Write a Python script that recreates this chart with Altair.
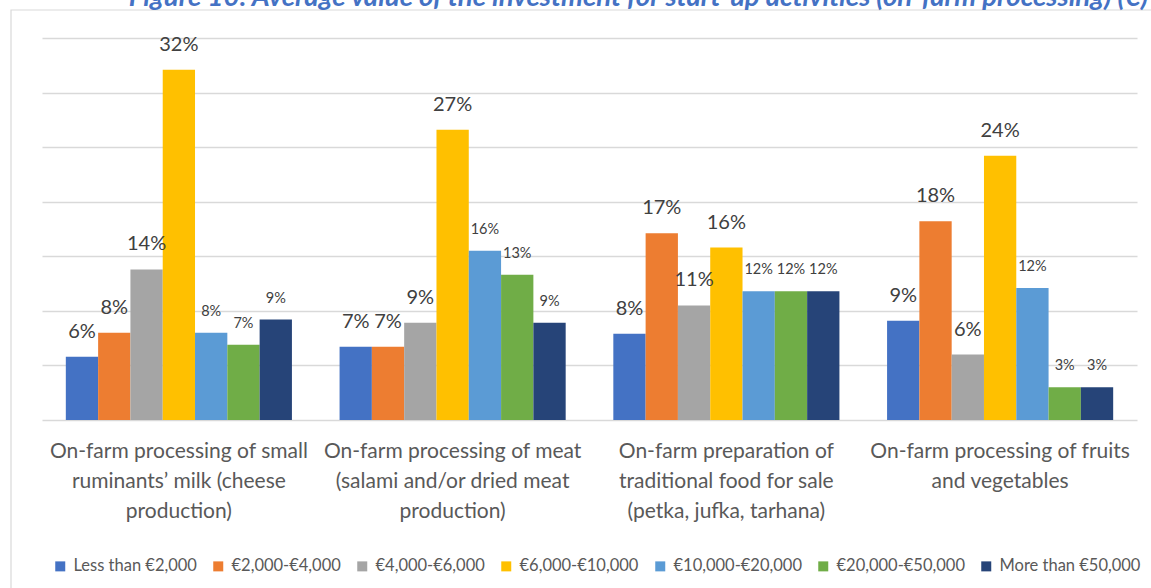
import altair as alt
import pandas as pd

title_text = "Figure 10: Average value of the investment for start-up activities (on-farm processing) (€)"

categories = [
    ["On-farm processing of small", "ruminants’ milk (cheese", "production)"],
    ["On-farm processing of meat", "(salami and/or dried meat", "production)"],
    ["On-farm preparation of", "traditional food for sale", "(petka, jufka, tarhana)"],
    ["On-farm processing of fruits", "and vegetables"],
]

series = ["Less than €2,000", "€2,000-€4,000", "€4,000-€6,000", "€6,000-€10,000",
          "€10,000-€20,000", "€20,000-€50,000", "More than €50,000"]
colors = ["#4472C4", "#ED7D31", "#A5A5A5", "#FFC000", "#5B9BD5", "#70AD47", "#264478"]

less_2000 = [5.8, 6.7, 7.9, 9.1]
e2000_4000 = [8.0, 6.7, 17.1, 18.2]
e4000_6000 = [13.8, 8.9, 10.5, 6.0]
e6000_10000 = [32.1, 26.6, 15.8, 24.2]
e10000_20000 = [8.0, 15.5, 11.8, 12.1]
e20000_50000 = [6.9, 13.3, 11.8, 3.0]
more_50000 = [9.2, 8.9, 11.8, 3.0]

series_values = [less_2000, e2000_4000, e4000_6000, e6000_10000,
                 e10000_20000, e20000_50000, more_50000]

cat_ids = ["\n".join(c) for c in categories]

rows = []
for si, (s, vals) in enumerate(zip(series, series_values)):
    for ci, v in enumerate(vals):
        rows.append({"category": cat_ids[ci], "series": s, "sidx": si, "value": v})
df = pd.DataFrame(rows)

# layout (pixels)
W, H = 1095, 382
PAD = {"left": 42, "top": 38, "right": 14, "bottom": 168}

FONT = "Lato"

x_enc = alt.X("category:N", sort=cat_ids,
              scale=alt.Scale(paddingInner=0, paddingOuter=0),
              axis=alt.Axis(labels=False, ticks=False, domain=False, title=None, grid=False))
y_enc = alt.Y("value:Q", scale=alt.Scale(domain=[0, 35], nice=False),
              axis=alt.Axis(values=[0, 5, 10, 15, 20, 25, 30, 35], labels=False, ticks=False,
                            domain=False, title=None, grid=True, gridColor="#D9D9D9",
                            gridWidth=1.3))
xo_enc = alt.XOffset("series:N", sort=series,
                     scale=alt.Scale(paddingOuter=0.7375, paddingInner=0))
color_enc = alt.Color("series:N", sort=series,
                      scale=alt.Scale(domain=series, range=colors),
                      legend=alt.Legend(orient="none", direction="horizontal", columns=7,
                                        legendX=10, legendY=520, title=None,
                                        symbolType="square", symbolSize=100,
                                        symbolStrokeWidth=0, labelFont=FONT,
                                        labelFontSize=16.5, labelColor="#595959",
                                        labelOffset=5, columnPadding=13,
                                        labelLimit=300))

base = alt.Chart(df)

bars = base.mark_bar(strokeWidth=0).encode(
    x=x_enc, y=y_enc, xOffset=xo_enc, color=color_enc
)

label_big = base.transform_filter("datum.sidx < 4").transform_calculate(
    label="format(datum.value, '.0f') + '%'"
).mark_text(font=FONT, fontSize=20, color="#404040", baseline="middle", dy=-25).encode(
    x=alt.X("category:N", sort=cat_ids), y="value:Q",
    xOffset=alt.XOffset("series:N", sort=series), text="label:N"
)

label_small = base.transform_filter("datum.sidx >= 4").transform_calculate(
    label="format(datum.value, '.0f') + '%'"
).mark_text(font=FONT, fontSize=14.5, color="#404040", baseline="middle", dy=-21).encode(
    x=alt.X("category:N", sort=cat_ids), y="value:Q",
    xOffset=alt.XOffset("series:N", sort=series), text="label:N"
)

cat_df = pd.DataFrame({"category": cat_ids})
cat_labels = alt.Chart(cat_df).mark_text(
    font=FONT, fontSize=21, color="#595959", baseline="middle", align="center",
    lineBreak="\n", lineHeight=30
).encode(
    x=alt.X("category:N", sort=cat_ids),
    y=alt.value(H + 32),
    text="category:N",
)

frame = alt.Chart(pd.DataFrame({"f": [0]})).mark_rect(
    fillOpacity=0, stroke="#D9D9D9", strokeWidth=1.2
).encode(
    x=alt.value(-31), x2=alt.value(W + 40), y=alt.value(-28), y2=alt.value(H + 200)
)

title = alt.Chart(pd.DataFrame({"t": [title_text]})).mark_text(
    font=FONT, fontSize=27.5, fontWeight="bold", fontStyle="italic", color="#4472C4",
    align="right", baseline="alphabetic"
).encode(
    x=alt.value(1148 - PAD["left"]), y=alt.value(6 - PAD["top"]), text="t:N"
)

chart = alt.layer(frame, bars, label_big, label_small, cat_labels, title).resolve_scale(
    x="shared"
).properties(
    width=W, height=H,
    autosize=alt.AutoSizeParams(type="none"),
    padding=PAD,
    background="white",
).configure_view(stroke=None)

chart.save("out.html", embed_options={"renderer": "svg", "actions": False})
